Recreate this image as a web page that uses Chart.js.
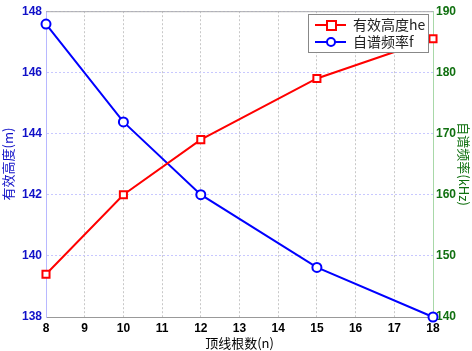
<!DOCTYPE html>
<html>
<head>
<meta charset="utf-8">
<script src="https://cdn.jsdelivr.net/npm/chart.js@4.4.1/dist/chart.umd.min.js"></script>
<style>
    html, body { margin: 0; padding: 0; background: #fff; }
    #wrap { width: 472px; height: 351px; position: relative; }
</style>
</head>
<body>
<div id="wrap"><canvas id="chart"></canvas></div>
<script>
// Data
const rootCounts = [8, 10, 12, 15, 18];
const effHeight = [139.4, 142.0, 143.8, 145.8, 147.1];
const selfFreq = [187.9, 171.9, 160.0, 148.1, 140.0];
const seriesNames = ['有效高度he', '自谱频率f'];

const toPoints = (ys) => rootCounts.map((x, i) => ({ x: x, y: ys[i] }));

const tickFont = { family: 'Arial, "Liberation Sans", sans-serif', size: 12, weight: 'bold' };
const titleFont = { family: '"Noto Sans CJK SC", sans-serif', size: 13 };

// Legend box drawn inside the plot, MATLAB style
const boxLegend = {
    id: 'boxLegend',
    afterDraw(chart) {
        const ctx = chart.ctx;
        const x0 = 308, y0 = 14, w = 120, h = 38;
        ctx.save();
        ctx.fillStyle = '#fff';
        ctx.fillRect(x0, y0, w, h);
        ctx.strokeStyle = '#888';
        ctx.lineWidth = 1;
        ctx.strokeRect(x0 + 0.5, y0 + 0.5, w, h);
        chart.data.datasets.forEach((ds, i) => {
            const yy = y0 + 11 + i * 17;
            ctx.strokeStyle = ds.borderColor;
            ctx.lineWidth = 2;
            ctx.beginPath();
            ctx.moveTo(315, yy);
            ctx.lineTo(346, yy);
            ctx.stroke();
            ctx.fillStyle = '#fff';
            if (ds.pointStyle === 'rect') {
                ctx.fillRect(327, yy - 4, 9, 9);
                ctx.strokeRect(327, yy - 4, 9, 9);
            } else {
                ctx.beginPath();
                ctx.arc(331, yy, 4, 0, Math.PI * 2);
                ctx.fill();
                ctx.stroke();
            }
            ctx.fillStyle = '#222';
            ctx.font = '14px "Noto Sans CJK SC", sans-serif';
            ctx.textBaseline = 'middle';
            ctx.fillText(ds.label, 353, yy);
        });
        ctx.restore();
    }
};

// Top frame line
const topFrame = {
    id: 'topFrame',
    afterDatasetsDraw(chart) {
        const a = chart.chartArea;
        const ctx = chart.ctx;
        ctx.save();
        ctx.strokeStyle = '#aaa';
        ctx.lineWidth = 1;
        ctx.beginPath();
        ctx.moveTo(a.left, a.top + 0.5);
        ctx.lineTo(a.right, a.top + 0.5);
        ctx.stroke();
        ctx.restore();
    }
};

new Chart(document.getElementById('chart').getContext('2d'), {
    type: 'line',
    data: {
        datasets: [{
            label: seriesNames[0],
            data: toPoints(effHeight),
            borderColor: '#ff0000',
            backgroundColor: '#ffffff',
            borderWidth: 2,
            pointStyle: 'rect',
            pointRadius: 5,
            pointBorderWidth: 2,
            tension: 0,
            clip: false,
            yAxisID: 'y'
        }, {
            label: seriesNames[1],
            data: toPoints(selfFreq),
            borderColor: '#0000ff',
            backgroundColor: '#ffffff',
            borderWidth: 2,
            pointStyle: 'circle',
            pointRadius: 4.5,
            pointBorderWidth: 2,
            tension: 0,
            clip: false,
            yAxisID: 'y1'
        }]
    },
    options: {
        responsive: true,
        maintainAspectRatio: false,
        animation: false,
        layout: { padding: { top: 7, left: 0, right: 0, bottom: 0 } },
        plugins: {
            legend: { display: false },
            tooltip: { enabled: false }
        },
        scales: {
            x: {
                type: 'linear',
                min: 8,
                max: 18,
                ticks: { stepSize: 1, color: '#000', font: tickFont, padding: 4 },
                grid: { color: '#c8c8c8', drawTicks: false, lineWidth: 1 },
                border: { color: '#999', dash: [2, 2] },
                title: { display: true, text: '顶线根数(n)', color: '#000', font: titleFont, padding: 0 },
                afterFit: (s) => { s.height = 34; }
            },
            y: {
                position: 'left',
                min: 138,
                max: 148,
                ticks: { stepSize: 2, color: '#1010c8', font: tickFont, padding: 4 },
                grid: { color: '#c8c8ff', drawTicks: false },
                border: { color: '#b8b8ff', dash: [2, 2] },
                title: { display: true, text: '有效高度(m)', color: '#1010c8', font: titleFont, padding: 0 },
                afterFit: (s) => { s.width = 46; }
            },
            y1: {
                position: 'right',
                min: 140,
                max: 190,
                ticks: { stepSize: 10, color: '#107010', font: tickFont, padding: 3 },
                grid: { drawOnChartArea: false, drawTicks: false },
                border: { color: '#a8d8a8' },
                title: { display: true, text: '自谱频率(kHz)', color: '#107010', font: titleFont, padding: 0 },
                afterFit: (s) => { s.width = 39; }
            }
        }
    },
    plugins: [topFrame, boxLegend]
});
</script>
</body>
</html>
